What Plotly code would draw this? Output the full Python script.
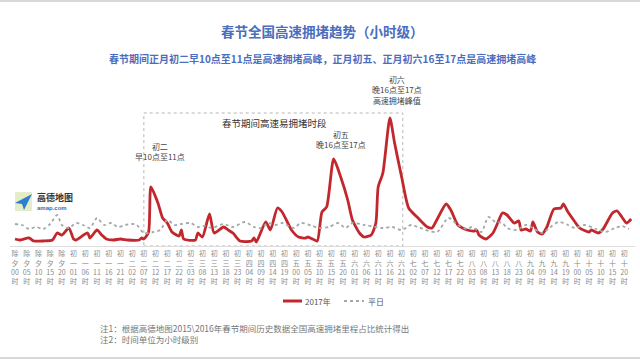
import plotly.graph_objects as go

# ---------------- data (hour index from 除夕00时, congestion index) ----------------
red_hours = [0, 2, 6, 8, 12, 16, 18, 20, 23, 25, 26, 31, 32, 35, 37, 39, 42, 45, 48, 53, 54, 55, 57,
             58, 61, 63, 65, 67, 70, 71, 72, 77, 78, 80, 83, 85, 89, 91, 93, 96, 101, 102, 103,
             107, 109, 112, 114, 118, 121, 124, 125, 127, 129, 131, 133, 136, 139, 142, 144, 147,
             149, 152, 154, 155, 157, 160, 162, 165, 168, 172, 176, 178, 180, 184, 186, 189, 193,
             196, 197, 198, 201, 204, 206, 208, 210, 213, 215, 216, 218, 220, 221, 223, 225, 227,
             230, 233, 234, 236, 239, 241, 245, 246, 249, 251, 255, 257, 259, 261, 263]
red_values = [5, 4, 6, 3, 3, 4, 11, 9, 16, 5, 4, 11, 6, 14, 9, 5, 4, 5, 4, 4, 6, 5, 12,
              57, 41, 26, 21, 12, 8, 14, 5, 4, 11, 7, 30, 11, 17, 14, 11, 3, 3, 6, 2,
              22, 14, 36, 32, 14, 7, 6, 7, 5, 3, 32, 37, 85, 67, 44, 24, 11,
              7, 9, 21, 57, 71, 126, 101, 67, 36, 26, 17, 16, 24, 40, 34, 19, 14,
              13, 14, 9, 5, 11, 21, 31, 29, 21, 23, 14, 15, 13, 22, 12, 10, 17,
              35, 36, 40, 32, 22, 16, 12, 14, 11, 15, 31, 33, 27, 21, 25]

gray_hours = [0, 3, 6, 9, 12, 15, 18, 20, 23, 26, 29, 32, 35, 38, 41, 44, 47, 50, 52, 55, 59, 62,
              65, 68, 71, 75, 78, 81, 84, 89, 93, 98, 102, 105, 108, 111, 114, 119, 122, 127, 130,
              134, 138, 141, 144, 149, 154, 157, 161, 165, 169, 172, 180, 185, 189, 193, 195, 199,
              202, 205, 208, 210, 214, 218, 221, 225, 228, 232, 236, 239, 243, 248, 252, 256, 259, 262]
gray_values = [20, 19, 15, 17, 15, 20, 29, 19, 16, 21, 19, 16, 26, 19, 21, 17, 19, 20, 19, 11, 12, 14,
               24, 19, 20, 21, 17, 18, 16, 20, 17, 22, 17, 16, 21, 19, 21, 16, 21, 18, 16,
               17, 21, 16, 21, 19, 17, 16, 17, 14, 19, 17, 12, 26, 19, 15, 17, 12,
               27, 22, 21, 16, 14, 19, 16, 11, 16, 22, 19, 16, 19, 15, 12, 16, 18, 15]

tick_hours = list(range(0, 261, 5))
tick_labels = [
    "除夕00时", "除夕05时", "除夕10时", "除夕15时", "除夕20时",
    "初一01时", "初一06时", "初一11时", "初一16时", "初一21时",
    "初二02时", "初二07时", "初二12时", "初二17时", "初二22时",
    "初三03时", "初三08时", "初三13时", "初三18时", "初三23时",
    "初四04时", "初四09时", "初四14时", "初四19时",
    "初五00时", "初五05时", "初五10时", "初五15时", "初五20时",
    "初六01时", "初六06时", "初六11时", "初六16时", "初六21时",
    "初七02时", "初七07时", "初七12时", "初七17时", "初七22时",
    "初八03时", "初八08时", "初八13时", "初八18时", "初八23时",
    "初九04时", "初九09时", "初九14时", "初九19时",
    "初十00时", "初十05时", "初十10时", "初十15时", "初十20时",
]

series_names = ["2017年", "平日"]
period_start, period_end, period_top = 55, 165.5, 131
period_label = "春节期间高速易拥堵时段"

peak_notes = [
    (62, 80, "初二<br>早10点至11点"),
    (139, 92, "初五<br>晚16点至17点"),
    (163, 136, "初六<br>晚16点至17点<br>高速拥堵峰值"),
]

title_text = "春节全国高速拥堵趋势（小时级）"
subtitle_text = "春节期间正月初二早10点至11点是高速拥堵高峰，正月初五、正月初六16至17点是高速拥堵高峰"
notes_text = "注1：根据高德地图2015\\2016年春节期间历史数据全国高速拥堵里程占比统计得出<br>注2：时间单位为小时级别"


def stack(label):
    # vertical (stacked) label: 除<br>夕<br>00<br>时
    return "<br>".join([label[0], label[1], label[2:4], label[4]])


FONT = "Noto Sans CJK SC"
BLUE = "#4a6dbd"
RED = "#c1272d"
GRAY = "#a3a8a8"

# layout geometry (pixels)
ML, MR, MT, MB = 10, 5, 66, 114
PW, PH = 640 - ML - MR, 360 - MT - MB
AXIS_Y = 360 - MB


def px(x):
    return (x - ML) / PW


def py(y):
    return (AXIS_Y - y) / PH


fig = go.Figure()
fig.add_trace(go.Scatter(x=red_hours, y=red_values, mode="lines", name=series_names[0],
                         showlegend=False,
                         line=dict(color=RED, width=2.8, shape="spline", smoothing=0.6)))
fig.add_trace(go.Scatter(x=gray_hours, y=gray_values, mode="lines", name=series_names[1],
                         showlegend=False,
                         line=dict(color=GRAY, width=1.8, dash="dot", shape="spline", smoothing=0.8)))

fig.update_layout(
    width=640, height=360,
    margin=dict(l=ML, r=MR, t=MT, b=MB, autoexpand=False),
    paper_bgcolor="white", plot_bgcolor="white",
    font=dict(family=FONT, color="#444", size=8),
    showlegend=False,
)
fig.update_xaxes(range=[-2.134, 264.6], showgrid=False, zeroline=False, automargin=False,
                 showline=True, linecolor="#dcdcdc", linewidth=1,
                 tickmode="array", tickvals=tick_hours, ticktext=[stack(t) for t in tick_labels],
                 tickfont=dict(size=7, color="#8a8a8a", family=FONT), ticks="",
                 ticklabelstandoff=1)
fig.update_yaxes(range=[-2, 178], visible=False, automargin=False)

# dashed box for the congestion period
fig.add_shape(type="rect", xref="x", yref="y", x0=period_start, x1=period_end, y0=-2, y1=period_top,
              line=dict(color="#b5b5b5", width=1, dash="dot"), layer="below")
fig.add_annotation(x=(period_start + period_end) / 2 + 0.5, y=period_top - 10, xref="x", yref="y",
                   text=period_label, showarrow=False, font=dict(size=9.5, color="#333"))

for hx, vy, txt in peak_notes:
    fig.add_annotation(x=hx, y=vy, xref="x", yref="y", text=txt, showarrow=False,
                       yanchor="bottom", font=dict(size=8, color="#444"), align="center")

# legend (drawn manually for short samples)
fig.add_shape(type="line", xref="paper", yref="paper", x0=px(283), x1=px(302), y0=py(301), y1=py(301),
              line=dict(color=RED, width=3))
fig.add_annotation(x=px(303), y=py(301), xref="paper", yref="paper", text=series_names[0],
                   showarrow=False, xanchor="left", yanchor="middle", font=dict(size=8, color="#555"))
fig.add_shape(type="line", xref="paper", yref="paper", x0=px(344), x1=px(364), y0=py(301), y1=py(301),
              line=dict(color=GRAY, width=1.8, dash="dot"))
fig.add_annotation(x=px(366), y=py(301), xref="paper", yref="paper", text=series_names[1],
                   showarrow=False, xanchor="left", yanchor="middle", font=dict(size=8, color="#555"))

# titles
fig.add_annotation(x=0.5, y=py(31), xref="paper", yref="paper", text=f"<b>{title_text}</b>",
                   showarrow=False, yanchor="middle", font=dict(size=13.5, color=BLUE))
fig.add_annotation(x=0.5, y=py(59), xref="paper", yref="paper", text=f"<b>{subtitle_text}</b>",
                   showarrow=False, yanchor="middle", font=dict(size=10, color=BLUE))

# notes
fig.add_annotation(x=px(98), y=py(333), xref="paper", yref="paper",
                   text=notes_text, showarrow=False, xanchor="left", yanchor="middle",
                   align="left", font=dict(size=8.5, color="#777"))

# logo (高德地图 amap.com)
fig.add_shape(type="rect", xref="paper", yref="paper",
              x0=px(15), x1=px(32), y0=py(211), y1=py(192),
              fillcolor="#e5edc8", line=dict(width=0))
fig.add_shape(type="path", xref="paper", yref="paper",
              path=f"M {px(15)} {py(203)} L {px(32)} {py(194)} L {px(24)} {py(210)} L {px(22)} {py(204)} Z",
              fillcolor="#2f7fd0", line=dict(width=0))
fig.add_annotation(x=px(35), y=py(197), xref="paper", yref="paper",
                   text="<b>高德地图</b>", showarrow=False, xanchor="left", yanchor="middle",
                   font=dict(size=9, color="#333"))
fig.add_annotation(x=px(35), y=py(207.5), xref="paper", yref="paper",
                   text="<b>amap.com</b>", showarrow=False, xanchor="left", yanchor="middle",
                   font=dict(size=6, color="#3a6ab0", family="Liberation Sans"))

# thin frame lines top/bottom
fig.add_shape(type="line", xref="paper", yref="paper", x0=-1, x1=2,
              y0=py(1), y1=py(1), line=dict(color="#d8d8d8", width=2))
fig.add_shape(type="line", xref="paper", yref="paper", x0=-1, x1=2,
              y0=py(358), y1=py(358), line=dict(color="#d8d8d8", width=2))

fig.write_html("out.html", config={"displayModeBar": False},
               post_script="document.body.style.margin='0';document.body.style.overflow='hidden';")
